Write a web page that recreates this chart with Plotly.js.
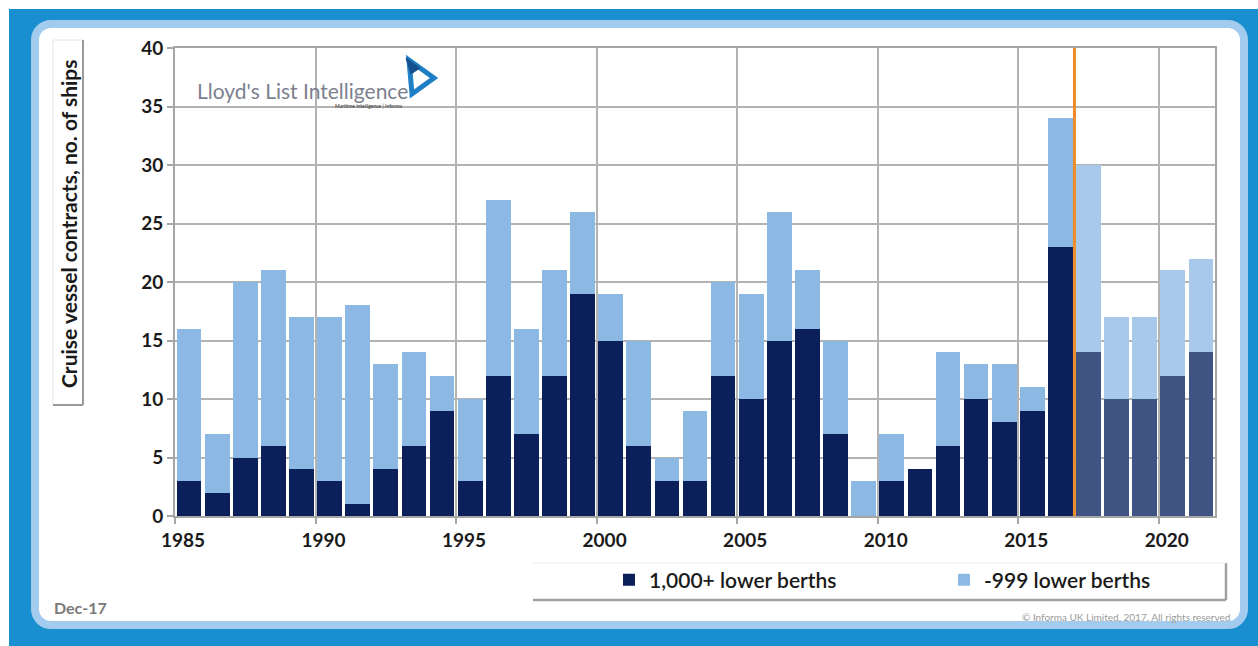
<!DOCTYPE html>
<html>
<head>
<meta charset="utf-8">
<script src="https://cdn.plot.ly/plotly-3.0.1.min.js"></script>
<style>
  html, body { margin: 0; padding: 0; background: #ffffff; }
  #wrap { position: relative; width: 1258px; height: 646px; overflow: hidden; }
  #outer { position: absolute; left: 9px; top: 9px; width: 1249px; height: 637px; background: #1a8fd0; }
  #inner { position: absolute; left: 31px; top: 20px; width: 1201px; height: 593px;
           background: #ffffff; border: 8px solid #a3cbee; border-radius: 20px; }
  #chart { position: absolute; left: 0; top: 0; width: 1258px; height: 646px; }
</style>
</head>
<body>
<div id="wrap">
  <div id="outer"></div>
  <div id="inner"></div>
  <div id="chart"></div>
</div>
<script>
// ---- data ----
const years = [1985,1986,1987,1988,1989,1990,1991,1992,1993,1994,1995,1996,1997,1998,1999,2000,2001,2002,2003,2004,2005,2006,2007,2008,2009,2010,2011,2012,2013,2014,2015,2016,2017,2018,2019,2020,2021];
const large = [3,2,5,6,4,3,1,4,6,9,3,12,7,12,19,15,6,3,3,12,10,15,16,7,0,3,4,6,10,8,9,23,14,10,10,12,14];
const small = [13,5,15,15,13,14,17,9,8,3,7,15,9,9,7,4,9,2,6,8,9,11,5,8,3,4,0,8,3,5,2,11,16,7,7,9,8];
const seriesNames = ["1,000+ lower berths", "-999 lower berths"];
const forecastStart = 2017;
const xTickVals = [1985,1990,1995,2000,2005,2010,2015,2020];
const yTickVals = [0,5,10,15,20,25,30,35,40];

const darkHist = "#0b1f5b", darkProj = "#3f5482";
const lightHist = "#8cb9e3", lightProj = "#a9c9ea";

const font = "Lato, 'Open Sans', 'DejaVu Sans', sans-serif";

const traces = [
  {
    type: "bar", name: seriesNames[0], x: years, y: large,
    width: 0.88, offset: 0.06,
    marker: { color: years.map(y => y >= forecastStart ? darkProj : darkHist), line: { width: 0 } },
    hoverinfo: "x+y+name"
  },
  {
    type: "bar", name: seriesNames[1], x: years, y: small,
    width: 0.88, offset: 0.06,
    marker: { color: years.map(y => y >= forecastStart ? lightProj : lightHist), line: { width: 0 } },
    hoverinfo: "x+y+name"
  }
];

// plot area in pixels: x 175..1215, y 48..516
const L = 175, R = 1215, T = 48, B = 516;
const px = v => (v - L) / (R - L);
const py = v => (B - v) / (B - T);

const layout = {
  width: 1258, height: 646,
  margin: { l: L, r: 1258 - R, t: T, b: 646 - B, pad: 0, autoexpand: false },
  paper_bgcolor: "rgba(0,0,0,0)",
  plot_bgcolor: "#ffffff",
  barmode: "stack",
  bargap: 0,
  showlegend: true,
  font: { family: font, color: "#1a1a1a" },
  xaxis: {
    range: [1985, 2022], tickvals: xTickVals, ticktext: xTickVals.map(String),
    showgrid: true, gridcolor: "#b3b3b3", gridwidth: 2,
    showline: true, linecolor: "#a6a6a6", linewidth: 2, mirror: true,
    ticks: "outside", ticklen: 6, tickwidth: 2, tickcolor: "#a6a6a6",
    ticklabelshift: 8,
    tickfont: { family: font, size: 19, weight: "bold", color: "#1a1a1a" },
    zeroline: false, fixedrange: true
  },
  yaxis: {
    range: [0, 40], tickvals: yTickVals,
    showgrid: true, gridcolor: "#b3b3b3", gridwidth: 2,
    showline: true, linecolor: "#a6a6a6", linewidth: 2, mirror: true,
    ticks: "outside", ticklen: 6, tickwidth: 2, tickcolor: "#a6a6a6",
    tickfont: { family: font, size: 19, weight: "bold", color: "#1a1a1a" },
    zeroline: false, fixedrange: true
  },
  legend: {
    orientation: "h", traceorder: "normal",
    x: px(609), xanchor: "left", y: py(580), yanchor: "middle",
    bgcolor: "rgba(0,0,0,0)", borderwidth: 0,
    entrywidth: 290, entrywidthmode: "pixels",
    font: { family: font, size: 21, weight: 600, color: "#1a1a1a" },
    itemclick: false, itemdoubleclick: false
  },
  shapes: [
    // forecast divider
    { type: "line", xref: "x", yref: "paper", x0: forecastStart, x1: forecastStart, y0: 0, y1: 1,
      line: { color: "#ee8c2c", width: 3 } },
    // y-title box
    { type: "rect", xref: "paper", yref: "paper", x0: px(53), x1: px(83), y0: py(405), y1: py(40),
      line: { color: "#e4e4e4", width: 1 }, fillcolor: "rgba(0,0,0,0)" },
    { type: "line", xref: "paper", yref: "paper", x0: px(83), x1: px(83), y0: py(405), y1: py(40),
      line: { color: "#9a9a9a", width: 2 } },
    { type: "line", xref: "paper", yref: "paper", x0: px(53), x1: px(83), y0: py(405), y1: py(405),
      line: { color: "#9a9a9a", width: 2 } },
    // legend box shadow
    { type: "line", xref: "paper", yref: "paper", x0: px(533), x1: px(1226), y0: py(600), y1: py(600),
      line: { color: "#a0a0a0", width: 2.5 } },
    { type: "line", xref: "paper", yref: "paper", x0: px(1226), x1: px(1226), y0: py(600), y1: py(563),
      line: { color: "#a0a0a0", width: 2.5 } },
    { type: "line", xref: "paper", yref: "paper", x0: px(533), x1: px(1226), y0: py(563), y1: py(563),
      line: { color: "#ececec", width: 1 } },
    // logo mark
    { type: "path", xref: "paper", yref: "paper",
      path: `M${px(409)},${py(60)} L${px(434)},${py(78)} L${px(412)},${py(94)} Z`,
      line: { color: "#1f7fc4", width: 5 }, fillcolor: "rgba(0,0,0,0)" },
    { type: "path", xref: "paper", yref: "paper",
      path: `M${px(406)},${py(58)} L${px(420)},${py(68)} L${px(411)},${py(74)} Z`,
      line: { color: "#14508f", width: 1 }, fillcolor: "#14508f" }
  ],
  annotations: [
    { text: "Cruise vessel contracts, no. of ships", xref: "paper", yref: "paper",
      x: px(68), y: py(224), xanchor: "center", yanchor: "middle", textangle: -90, showarrow: false,
      font: { family: font, size: 21, weight: "bold", color: "#1a1a1a" } },
    { text: "Lloyd's List Intelligence", xref: "paper", yref: "paper",
      x: px(195), y: py(90), xanchor: "left", yanchor: "middle", showarrow: false,
      font: { family: font, size: 21, color: "#7c7f8e" } },
    { text: "Maritime Intelligence | Informa", xref: "paper", yref: "paper",
      x: px(405), y: py(106), xanchor: "right", yanchor: "middle", showarrow: false,
      font: { family: font, size: 5, color: "#333333" } },
    { text: "Dec-17", xref: "paper", yref: "paper",
      x: px(52), y: py(607), xanchor: "left", yanchor: "middle", showarrow: false,
      font: { family: font, size: 16, weight: "bold", color: "#7a7a7a" } },
    { text: "© Informa UK Limited, 2017. All rights reserved", xref: "paper", yref: "paper",
      x: px(1232), y: py(617), xanchor: "right", yanchor: "middle", showarrow: false,
      font: { family: font, size: 10, color: "#9a9a9a" } }
  ]
};

Plotly.newPlot("chart", traces, layout, { displayModeBar: false, staticPlot: false });
</script>
</body>
</html>
